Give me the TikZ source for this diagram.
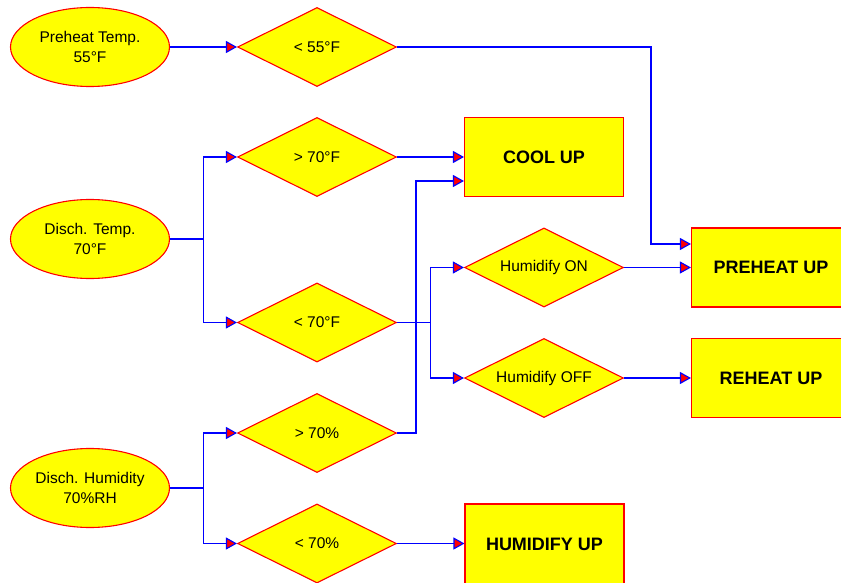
\documentclass[tikz,border=0pt]{standalone}
\usepackage{fontspec}
\setmainfont{Liberation Sans}
\usetikzlibrary{shapes.geometric,arrows.meta}
\definecolor{cyel}{RGB}{255,255,0}
\definecolor{cred}{RGB}{255,0,0}
\definecolor{cblue}{RGB}{0,0,255}
\newcommand{\zw}[1]{\makebox[0pt]{#1}}
\tikzset{
  base/.style={draw=cred, fill=cyel, line width=1.1pt, inner sep=0pt, align=center,
    font=\fontsize{15.5}{20}\selectfont},
  sensor/.style={base, ellipse, minimum width=159pt, minimum height=79pt},
  test/.style={base, diamond, minimum width=159pt, minimum height=79pt},
  action/.style={base, rectangle, minimum width=159pt, minimum height=79pt,
    font=\bfseries\fontsize{18}{22}\selectfont},
  arr/.style={draw=cblue, line width=1.1pt,
    -{Triangle[length=11pt,width=12pt,fill=cred]}},
  ln/.style={draw=cblue, line width=1.1pt},
}
\begin{document}
\begin{tikzpicture}[x=1pt,y=-1pt]
\useasboundingbox (0,0) rectangle (841,583);
\clip (0,0) rectangle (841,583);
% sensors
\node[sensor] (e1) at (90,47) {Preheat Temp.\\55°F};
\node[sensor] (e2) at (90,239) {Disch. Temp.\\70°F};
\node[sensor] (e3) at (90,488) {Disch. Humidity\\70\%RH};
% tests
\node[test] (d1) at (317,47) {\zw{< 55°F}};
\node[test] (d2) at (317,157) {\zw{> 70°F}};
\node[test] (d3) at (317,322.5) {\zw{< 70°F}};
\node[test] (d4) at (317,433) {\zw{> 70\%}};
\node[test] (d5) at (317,543.5) {\zw{< 70\%}};
\node[test] (hon) at (544,267.5) {\zw{Humidify ON}};
\node[test] (hoff) at (544,378) {\zw{Humidify OFF}};
% actions
\node[action] (cool) at (544,157) {COOL UP};
\node[action] (pre) at (771,267.5) {PREHEAT UP};
\node[action] (reh) at (771,378) {REHEAT UP};
\node[action, minimum height=84pt] (hum) at (544.5,546) {\raisebox{2.5pt}{HUMIDIFY UP}};
% junction points
\coordinate (c1) at (651,244);
\coordinate (b2) at (203.5,239);
\coordinate (b3) at (430.5,322.5);
\coordinate (c4) at (416,181);
\coordinate (b5) at (203.5,488);
% connectors
\draw[arr] (e1.east) -- (d1.west);
\draw[arr] (d1.east) -| (c1) -- (c1 -| pre.west);
\draw[ln] (e2.east) -- (b2);
\draw[arr] (b2) |- (d2.west);
\draw[arr] (b2) |- (d3.west);
\draw[arr] (d2.east) -- (d2.east -| cool.west);
\draw[arr] (d4.east) -| (c4) -- (c4 -| cool.west);
\draw[ln] (d3.east) -- (b3);
\draw[arr] (b3) |- (hon.west);
\draw[arr] (b3) |- (hoff.west);
\draw[arr] (hon.east) -- (hon.east -| pre.west);
\draw[arr] (hoff.east) -- (hoff.east -| reh.west);
\draw[ln] (e3.east) -- (b5);
\draw[arr] (b5) |- (d4.west);
\draw[arr] (b5) |- (d5.west);
\draw[arr] (d5.east) -- (d5.east -| hum.west);
\end{tikzpicture}
\end{document}
